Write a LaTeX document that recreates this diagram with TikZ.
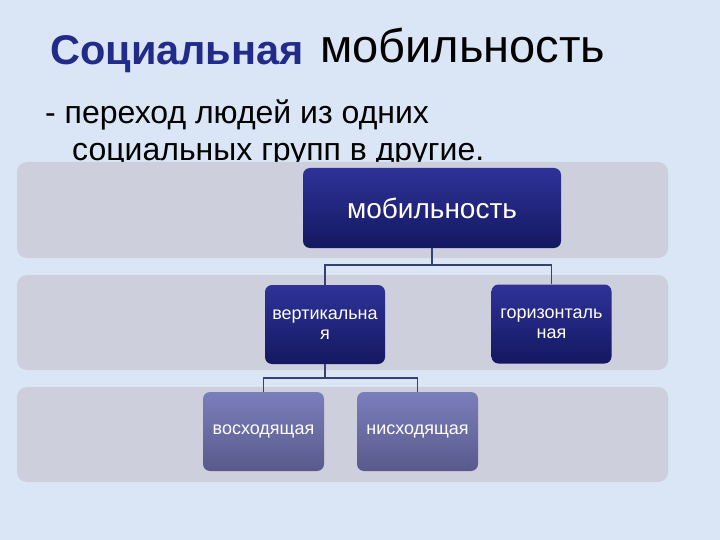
\documentclass[tikz,border=0pt]{standalone}
\usepackage{fontspec}
\setmainfont{Liberation Sans}
\usetikzlibrary{positioning,calc}
\definecolor{slidebg}{RGB}{218,230,245}
\definecolor{bandgray}{RGB}{206,207,221}
\definecolor{navytop}{RGB}{46,50,152}
\definecolor{navybot}{RGB}{20,24,96}
\definecolor{lavtop}{RGB}{124,126,188}
\definecolor{lavbot}{RGB}{88,90,140}
\definecolor{connblue}{RGB}{52,64,118}
\definecolor{titleblue}{RGB}{34,42,138}
\tikzset{
  band/.style={fill=bandgray,rounded corners=10pt},
  orgbox/.style={shade,rounded corners=7pt,text=white,align=center,
    inner sep=0pt},
  topbox/.style={orgbox,top color=navytop,bottom color=navybot,
    minimum width=258pt,minimum height=80pt,
    font=\fontsize{28}{34}\selectfont},
  midbox/.style={orgbox,top color=navytop,bottom color=navybot,
    minimum width=120pt,minimum height=79pt,
    font=\fontsize{18}{20}\selectfont},
  lowbox/.style={orgbox,top color=lavtop,bottom color=lavbot,
    minimum width=121pt,minimum height=79pt,
    font=\fontsize{18}{20}\selectfont},
  conn/.style={draw=connblue,line width=1.5pt},
  headtxt/.style={anchor=base west,inner sep=0pt},
}
\begin{document}
\begin{tikzpicture}[x=1pt,y=-1pt]
  \fill[slidebg] (0,0) rectangle (720,540);
  % title and definition
  \node[headtxt,text=titleblue,font=\fontsize{41.5}{48}\selectfont\bfseries]
    (ttlA) at (50,65) {Социальная};
  \node[headtxt,font=\fontsize{47}{52}\selectfont] (ttlB) at (320,63)
    {мобильность};
  \node[headtxt,font=\fontsize{32}{38}\selectfont] (def1) at (45,124)
    {- переход людей из одних};
  \node[headtxt,font=\fontsize{32}{38}\selectfont] (def2) at (72,161)
    {социальных групп в другие.};
  % bands
  \fill[band] (17,162) rectangle (668,258);
  \fill[band] (17,275) rectangle (668,370);
  \fill[band] (17,387) rectangle (668,482);
  % boxes
  \node[topbox] (mob) at (432,208) {мобильность};
  \node[midbox] (vert) at (325,324.5) {вертикальна\\я};
  \node[midbox] (horiz) at (551.5,324) {горизонталь\\ная};
  \node[lowbox] (up) at (263.5,431.5) {восходящая};
  \node[lowbox] (down) at (417.5,431.5) {нисходящая};
  % connectors
  \coordinate (j1) at (432,265);
  \coordinate (j2) at (325,378);
  \draw[conn] (mob.south) -- (j1);
  \draw[conn] (j1) -| (vert.north);
  \draw[conn] (j1) -| (horiz.north);
  \draw[conn] (vert.south) -- (j2);
  \draw[conn] (j2) -| (up.north);
  \draw[conn] (j2) -| (down.north);
\end{tikzpicture}
\end{document}
